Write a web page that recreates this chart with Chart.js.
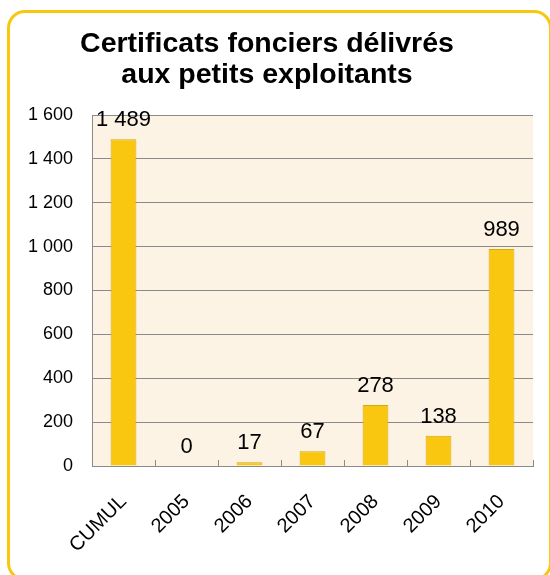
<!DOCTYPE html>
<html>
<head>
<meta charset="utf-8">
<script src="https://cdn.jsdelivr.net/npm/chart.js@4/dist/chart.umd.min.js"></script>
<style>
  html, body { margin: 0; padding: 0; background: #ffffff; }
  #wrap { position: relative; width: 550px; height: 575px; overflow: hidden; }
  #frame { position: absolute; left: 7px; top: 10px; width: 545px; height: 571px;
           border: 3px solid #F9C80E; border-radius: 18px; box-sizing: border-box; }
  canvas { position: absolute; left: 0; top: 0; }
</style>
</head>
<body>
<div id="wrap">
  <div id="frame"></div>
  <canvas id="c" width="550" height="575"></canvas>
</div>
<script>
const categories = ['CUMUL', '2005', '2006', '2007', '2008', '2009', '2010'];
const certificats = [1489, 0, 17, 67, 278, 138, 989];
const titleLines = ['Certificats fonciers délivrés', 'aux petits exploitants'];
const yMin = 0, yMax = 1600, yStep = 200;

const FONT = '"Liberation Sans", Arial, sans-serif';
const fmt = v => String(v).replace(/\B(?=(\d{3})+(?!\d))/g, ' ');

const plotBg = {
  id: 'plotBg',
  beforeDraw(chart) {
    const a = chart.chartArea, ctx = chart.ctx;
    ctx.save();
    ctx.fillStyle = '#FDF3E5';
    ctx.fillRect(a.left, a.top, a.right - a.left, a.bottom - a.top);
    ctx.restore();
  }
};

const titlePlugin = {
  id: 'titlePlugin',
  afterDraw(chart) {
    const ctx = chart.ctx;
    ctx.save();
    ctx.fillStyle = '#000';
    ctx.font = 'bold 28.5px ' + FONT;
    ctx.textAlign = 'center';
    ctx.textBaseline = 'alphabetic';
    titleLines.forEach((t, i) => ctx.fillText(t, 267, 52 + i * 31));
    ctx.restore();
  }
};

const innerTicks = {
  id: 'innerTicks',
  afterDatasetsDraw(chart) {
    const x = chart.scales.x, a = chart.chartArea, ctx = chart.ctx;
    ctx.save();
    ctx.strokeStyle = '#8a8a8a';
    ctx.lineWidth = 1;
    for (let i = 1; i <= categories.length; i++) {
      const px = Math.round(x.getPixelForValue(i - 0.5)) + 0.5;
      ctx.beginPath();
      ctx.moveTo(px, a.bottom);
      ctx.lineTo(px, a.bottom - 6);
      ctx.stroke();
    }
    ctx.restore();
  }
};

const valueLabels = {
  id: 'valueLabels',
  afterDatasetsDraw(chart) {
    const ctx = chart.ctx;
    const meta = chart.getDatasetMeta(0);
    ctx.save();
    ctx.fillStyle = '#000';
    ctx.font = '22px ' + FONT;
    ctx.textAlign = 'center';
    ctx.textBaseline = 'alphabetic';
    meta.data.forEach((bar, i) => {
      ctx.fillText(fmt(certificats[i]), bar.x, bar.y - 13);
    });
    ctx.restore();
  }
};

new Chart(document.getElementById('c'), {
  type: 'bar',
  data: {
    labels: categories,
    datasets: [{
      data: certificats,
      backgroundColor: '#F9C710',
      borderColor: '#D9A80A',
      borderWidth: 1,
      barPercentage: 0.41,
      categoryPercentage: 1
    }]
  },
  options: {
    responsive: false,
    animation: false,
    devicePixelRatio: 1,
    layout: { padding: { left: 0, right: 17, top: 115, bottom: 0 } },
    plugins: {
      legend: { display: false },
      tooltip: { enabled: false },
      title: { display: false }
    },
    scales: {
      x: {
        grid: { display: false, offset: true },
        border: { display: true, color: '#8a8a8a', width: 1 },
        ticks: {
          color: '#000',
          font: { family: FONT, size: 20 },
          minRotation: 45, maxRotation: 45,
          padding: 16,
          autoSkip: false
        },
        afterFit(s) { s.height = 109; }
      },
      y: {
        min: yMin, max: yMax,
        ticks: {
          stepSize: yStep,
          color: '#000',
          font: { family: FONT, size: 18 },
          padding: 19,
          callback: v => fmt(v)
        },
        grid: { color: '#8a8a8a', lineWidth: 1, drawTicks: false },
        border: { display: true, color: '#8a8a8a', width: 1 },
        afterFit(s) { s.width = 92; }
      }
    }
  },
  plugins: [plotBg, innerTicks, valueLabels, titlePlugin]
});
</script>
</body>
</html>
